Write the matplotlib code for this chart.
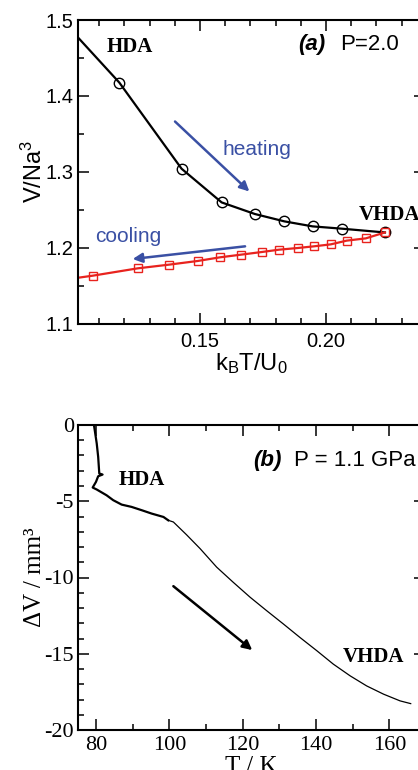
import numpy as np
import matplotlib
matplotlib.use("Agg")
import matplotlib.pyplot as plt
from matplotlib.ticker import MultipleLocator

plt.rcParams["mathtext.fontset"] = "custom"
plt.rcParams["mathtext.rm"] = "Liberation Sans"
plt.rcParams["mathtext.it"] = "Liberation Sans:italic"
plt.rcParams["mathtext.bf"] = "Liberation Sans:bold"

SANS = "Liberation Sans"
SERIF = "Liberation Serif"
BLUE = "#3a50a4"
RED = "#e8231e"

# (a) simulation, P = 2.0
heat_x = [0.098, 0.1180, 0.1427, 0.1586, 0.1718, 0.1835, 0.1947, 0.2062, 0.2234]
heat_v = [1.490, 1.4175, 1.304, 1.2596, 1.2443, 1.2346, 1.228, 1.225, 1.220]
cool_x = [0.098, 0.1076, 0.1253, 0.1378, 0.1491, 0.1579, 0.1662, 0.1747,
          0.1814, 0.1888, 0.1952, 0.2019, 0.2082, 0.2158, 0.2234]
cool_v = [1.1586, 1.1631, 1.1727, 1.1776, 1.1824, 1.1872, 1.1907, 1.1943,
          1.1973, 1.1995, 1.2017, 1.2043, 1.2092, 1.2122, 1.220]

# (b) experiment, P = 1.1 GPa (low-T part drawn thicker)
exp_T1 = [79.45, 80.2, 80.6, 80.9, 81.8, 80.6, 80.0, 79.1, 80.2, 82.9, 84.7,
          87.0, 89.7, 92.5, 95.2, 98.4, 99.7]
exp_dV1 = [0.0, -1.2, -2.09, -3.18, -3.25, -3.36, -3.73, -4.1, -4.23, -4.61,
           -4.93, -5.22, -5.37, -5.59, -5.81, -6.03, -6.25]
exp_T2 = [99.7, 101.1, 104.7, 108.4, 112.9, 117.4, 122.0, 126.5, 131.1,
          135.6, 140.2, 144.7, 149.3, 153.8, 158.4, 162.9, 165.8]
exp_dV2 = [-6.25, -6.36, -7.20, -8.11, -9.32, -10.31, -11.29, -12.17,
           -13.05, -13.93, -14.80, -15.68, -16.45, -17.11, -17.65, -18.09, -18.27]

fig = plt.figure(figsize=(4.18, 7.7), dpi=100)
ax1 = fig.add_axes([78 / 418, 1 - 323.5 / 770, 347 / 418, 303.5 / 770])
ax2 = fig.add_axes([78 / 418, 1 - 730 / 770, 347 / 418, 305 / 770])

for ax in (ax1, ax2):
    for s in ax.spines.values():
        s.set_linewidth(1.5)
    ax.tick_params(which="both", direction="in", top=True, right=True, width=1.1)
    ax.tick_params(which="major", length=8)
    ax.tick_params(which="minor", length=4)

# ---- panel (a)
ax1.plot(heat_x, heat_v, color="black", lw=1.6, marker="o", ms=7.5,
         mfc="none", mec="black", mew=1.0)
ax1.plot(cool_x, cool_v, color=RED, lw=1.6, marker="s", ms=5.5,
         mfc="none", mec=RED, mew=1.0)
ax1.set_xlim(0.1016, 0.2393)
ax1.set_ylim(1.1, 1.5)
ax1.set_xticks([0.15, 0.20])
ax1.set_xticklabels(["0.15", "0.20"])
ax1.set_yticks([1.1, 1.2, 1.3, 1.4, 1.5])
ax1.set_yticklabels(["1.1", "1.2", "1.3", "1.4", "1.5"])
ax1.xaxis.set_minor_locator(MultipleLocator(0.01))
ax1.yaxis.set_minor_locator(MultipleLocator(0.05))
ax1.tick_params(axis="x", pad=6)
ax1.tick_params(axis="y", pad=3)
for lab in ax1.get_xticklabels() + ax1.get_yticklabels():
    lab.set_fontfamily(SANS)
    lab.set_fontsize(14.5)
ax1.set_xlabel(r"k$_\mathrm{B}$T/U$_0$", fontfamily=SANS, fontsize=17, labelpad=0)
ax1.set_ylabel(r"V/Na$^3$", fontfamily=SANS, fontsize=17, labelpad=-1)

ax1.annotate("", xy=(0.1696, 1.274), xytext=(0.1401, 1.3662),
             arrowprops=dict(arrowstyle="-|>", color=BLUE, lw=1.8,
                             mutation_scale=14, shrinkA=0, shrinkB=0))
ax1.annotate("", xy=(0.1233, 1.185), xytext=(0.1679, 1.2017),
             arrowprops=dict(arrowstyle="-|>", color=BLUE, lw=1.8,
                             mutation_scale=14, shrinkA=0, shrinkB=0))
ax1.text(0.1590, 1.3223, "heating", color=BLUE, fontfamily=SANS, fontsize=15,
         va="baseline")
ax1.text(0.1083, 1.2069, "cooling", color=BLUE, fontfamily=SANS, fontsize=15,
         va="baseline")
ax1.text(0.1130, 1.4575, "HDA", fontfamily=SERIF, fontweight="bold",
         fontsize=15, va="baseline")
ax1.text(0.2129, 1.2368, "VHDA", fontfamily=SERIF, fontweight="bold",
         fontsize=15, va="baseline")
ax1.text(0.1888, 1.4605, "(a)", fontfamily=SANS, fontweight="bold",
         fontstyle="italic", fontsize=16, va="baseline")
ax1.text(0.2056, 1.4605, "P=2.0", fontfamily=SANS, fontsize=16, va="baseline")

# ---- panel (b)
ax2.plot(exp_T1, exp_dV1, color="black", lw=1.6)
ax2.plot(exp_T2, exp_dV2, color="black", lw=0.9)
ax2.set_xlim(75.1, 169.7)
ax2.set_ylim(-20, 0)
ax2.set_xticks([80, 100, 120, 140, 160])
ax2.set_yticks([-20, -15, -10, -5, 0])
ax2.set_yticklabels(["-20", "-15", "-10", "-5", "0"])
ax2.xaxis.set_minor_locator(MultipleLocator(10))
ax2.yaxis.set_minor_locator(MultipleLocator(1))
ax2.tick_params(axis="x", pad=4)
ax2.tick_params(axis="y", pad=3)
for lab in ax2.get_xticklabels() + ax2.get_yticklabels():
    lab.set_fontfamily(SERIF)
    lab.set_fontsize(16)
ax2.set_xlabel("T / K", fontfamily=SERIF, fontsize=18, labelpad=1)
ax2.set_ylabel("\u0394V / mm\u00b3", fontfamily=SERIF, fontsize=18, labelpad=-1)

ax2.annotate("", xy=(122.6, -14.76), xytext=(101.1, -10.57),
             arrowprops=dict(arrowstyle="-|>", color="black", lw=1.8,
                             mutation_scale=14, shrinkA=0, shrinkB=0))
ax2.text(86.1, -3.95, "HDA", fontfamily=SERIF, fontweight="bold",
         fontsize=15, va="baseline")
ax2.text(147.4, -15.57, "VHDA", fontfamily=SERIF, fontweight="bold",
         fontsize=15, va="baseline")
ax2.text(122.9, -2.70, "(b)", fontfamily=SANS, fontweight="bold",
         fontstyle="italic", fontsize=16, va="baseline")
ax2.text(134.1, -2.70, "P = 1.1 GPa", fontfamily=SANS, fontsize=16,
         va="baseline")

fig.savefig("out.png", dpi=100)
